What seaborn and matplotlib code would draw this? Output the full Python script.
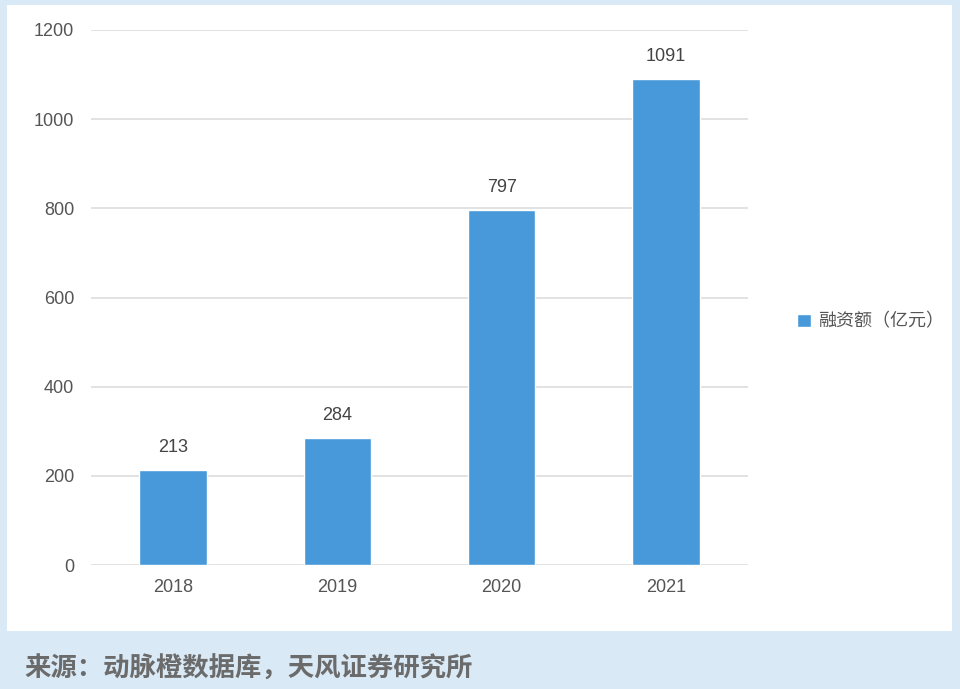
import pandas as pd
import matplotlib
matplotlib.use("Agg")
import matplotlib.pyplot as plt
import seaborn as sns
from matplotlib.patches import Rectangle

# data
years = ["2018", "2019", "2020", "2021"]
amounts = [213, 284, 797, 1091]
series_name = "融资额（亿元）"
source_text = "来源：动脉橙数据库，天风证券研究所"

df = pd.DataFrame({"year": years, "amount": amounts, "series": series_name})

sns.set_theme(style="white")
plt.rcParams['font.family'] = ['Liberation Sans', 'Noto Sans CJK SC', 'DejaVu Sans']

bar_color = "#4799da"
text_color = "#555555"

fig = plt.figure(figsize=(9.6, 6.89), dpi=100)
fig.patch.set_facecolor("#d9e9f5")
# white panel
fig.add_artist(Rectangle((7 / 960, 1 - 631 / 689), 945 / 960, 626 / 689,
                         transform=fig.transFigure, facecolor="white",
                         edgecolor="none", zorder=0))

ax = fig.add_axes([91 / 960, 1 - 565 / 689, 657 / 960, 535 / 689])
ax.set_facecolor("none")
sns.barplot(data=df, x="year", y="amount", hue="series", palette=[bar_color],
            width=0.41, ax=ax, saturation=1, zorder=3)

ax.set_ylim(0, 1200)
ax.set_xlim(-0.5, 3.5)
ax.set_yticks(range(0, 1201, 200))
ax.yaxis.grid(True, color="#dddddd", linewidth=1.2, zorder=0)
for s in ax.spines.values():
    s.set_visible(False)
ax.set_xlabel("")
ax.set_ylabel("")
ax.tick_params(axis="both", length=0, labelsize=13, labelcolor=text_color)
ax.tick_params(axis="y", pad=12)
ax.tick_params(axis="x", pad=10)

for c in ax.containers:
    ax.bar_label(c, labels=[str(v) for v in amounts], padding=10,
                 fontsize=13, color="#444444")

leg = ax.legend(loc="center left", bbox_to_anchor=(1.05, 0.455), frameon=False,
                handlelength=0.75, handleheight=0.75, handletextpad=0.4,
                prop={"family": ["Noto Sans CJK SC"], "size": 13})
for t in leg.get_texts():
    t.set_color(text_color)

fig.text(24 / 960, 1 - 669 / 689, source_text, fontsize=19, fontweight="bold",
         family=["Noto Sans CJK SC"], color="#6b6b6b", va="center", ha="left")

fig.savefig("out.png", dpi=100, facecolor=fig.get_facecolor())
